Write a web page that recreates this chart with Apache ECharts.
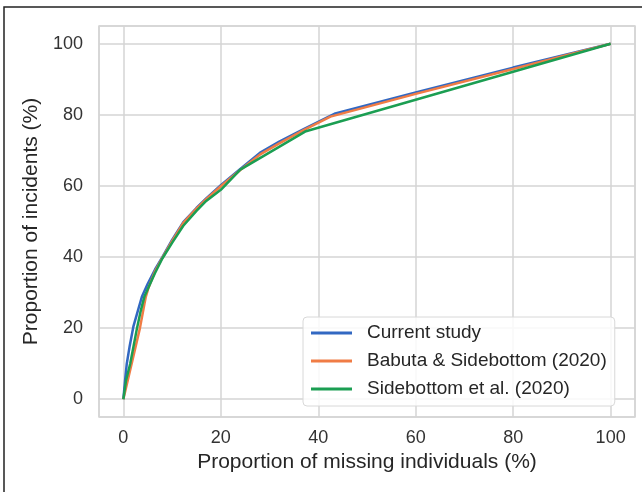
<!DOCTYPE html>
<html>
<head>
<meta charset="utf-8">
<script src="https://cdn.jsdelivr.net/npm/echarts@6/dist/echarts.min.js"></script>
<style>
  html, body { margin: 0; padding: 0; background: #fff; }
  #chart { width: 642px; height: 492px; }
</style>
</head>
<body>
<div id="chart"></div>
<script>
// series names
const seriesNames = ['Current study', 'Babuta & Sidebottom (2020)', 'Sidebottom et al. (2020)'];

// Current study
const currentX = [0, 0.35, 0.7, 1.3, 2.05, 3, 3.8, 5, 6.5, 8, 10, 12.3, 15, 17, 20, 24, 28, 32, 37, 43.5, 60, 80, 100];
const currentY = [0, 5.3, 10, 15, 20.4, 25, 28.8, 32.5, 36.5, 40, 44.8, 49.8, 53.8, 56.5, 60.2, 64.8, 69.3, 72.5, 76, 80.4, 86.3, 93.3, 100];

// Babuta & Sidebottom (2020)
const babutaX = [0, 1.7, 3.4, 4.6, 5.2, 6.5, 8, 10, 12.3, 15, 17, 20, 24, 28, 32, 37, 42.5, 60, 80, 100];
const babutaY = [0, 10, 20, 28.8, 31.5, 36, 39.8, 44.5, 49.6, 53.6, 56.3, 59.9, 64.5, 68.8, 72, 75.7, 79.5, 85.9, 92.9, 100];

// Sidebottom et al. (2020)
const sidebottomX = [0, 0.55, 1.4, 2.1, 2.8, 3.5, 4.3, 5.5, 6.5, 8, 10, 12.3, 15, 17, 20, 24, 37.3, 100];
const sidebottomY = [0, 5.3, 10, 15, 20, 24.5, 28.8, 32.5, 35.5, 39.6, 44, 48.8, 53, 55.8, 58.9, 64.6, 75.3, 100];

const colors = ['#3268c2', '#f07c45', '#1b9e52'];

const zip = (xs, ys) => xs.map((x, i) => [x, ys[i]]);

const chart = echarts.init(document.getElementById('chart'));

const axisCommon = {
    type: 'value',
    min: -5,
    max: 105,
    splitNumber: 5,
    axisLine: {show: false},
    axisTick: {show: false},
    splitLine: {lineStyle: {color: '#d4d4d4', width: 1.5}},
    nameLocation: 'middle',
    nameTextStyle: {fontSize: 21, color: '#262626', fontFamily: 'Liberation Sans'}
};

chart.setOption({
    animation: false,
    color: colors,
    textStyle: {fontFamily: 'Liberation Sans'},
    grid: {
        left: 99, right: 7, top: 26, bottom: 75,
        show: true, borderColor: '#d4d4d4', borderWidth: 1.5
    },
    xAxis: Object.assign({}, axisCommon, {
        name: 'Proportion of missing individuals (%)',
        nameGap: 31,
        axisLabel: {
            fontSize: 18, color: '#333', margin: 12,
            showMinLabel: false, showMaxLabel: false
        }
    }),
    yAxis: Object.assign({}, axisCommon, {
        name: 'Proportion of incidents (%)',
        nameGap: 49,
        axisLabel: {
            fontSize: 18, color: '#333', margin: 16,
            showMinLabel: false, showMaxLabel: false
        }
    }),
    legend: {
        orient: 'vertical',
        left: 303,
        top: 317,
        padding: [6, 8, 7, 8],
        itemGap: 8,
        itemWidth: 41,
        itemHeight: 3,
        icon: 'rect',
        backgroundColor: 'rgba(255,255,255,0.85)',
        borderColor: '#d8d8d8',
        borderWidth: 1,
        borderRadius: 4,
        textStyle: {fontSize: 19, color: '#262626', lineHeight: 20, padding: [0, 0, 0, 10]},
        data: seriesNames
    },
    graphic: [{
        type: 'rect',
        silent: true,
        shape: {x: 4, y: 7, width: 700, height: 600},
        style: {fill: 'none', stroke: '#222', lineWidth: 1.5}
    }],
    series: [
        {name: seriesNames[0], type: 'line', data: zip(currentX, currentY)},
        {name: seriesNames[1], type: 'line', data: zip(babutaX, babutaY)},
        {name: seriesNames[2], type: 'line', data: zip(sidebottomX, sidebottomY)}
    ].map(s => Object.assign(s, {
        showSymbol: false,
        symbol: 'none',
        lineStyle: {width: 2.5}
    }))
});
</script>
</body>
</html>
